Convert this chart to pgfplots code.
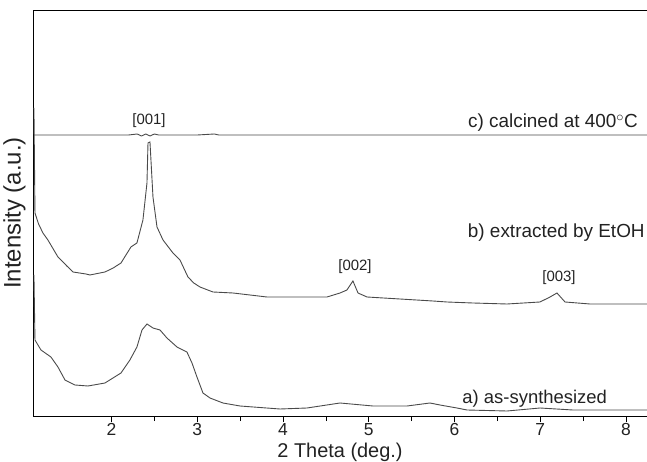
\documentclass[border=0pt]{standalone}
\usepackage{pgfplots}
\pgfplotsset{compat=1.18}
\usepackage{fontspec}
\setmainfont{Liberation Sans}
\definecolor{curve}{HTML}{4A4A4A}
\definecolor{txt}{HTML}{222222}
\begin{document}
\begin{tikzpicture}
\useasboundingbox (0,0) rectangle (647bp,462bp);
\begin{axis}[
  at={(33bp,46bp)}, anchor=south west,
  scale only axis, width=614bp, height=406bp,
  xmin=1.085, xmax=8.245, ymin=0, ymax=406,
  axis lines=left,
  axis line style={-, black, line width=0.9pt},
  xtick={2,3,4,5,6,7,8}, minor x tick num=1,
  tick align=outside,
  major tick length=6bp, minor tick length=5bp,
  tick style={black, line width=0.7pt},
  ytick=\empty,
  ticklabel style={font=\fontsize{17.5}{17.5}\selectfont, text=txt, inner sep=1.5pt},
  /pgf/number format/assume math mode=true,
  xlabel={2 Theta (deg.)},
  ylabel={Intensity (a.u.)},
  xlabel style={font=\fontsize{20}{20}\selectfont, text=txt, inner sep=0pt,
    at={(axis description cs:0.5,0)}, anchor=base, yshift=-41.5bp},
  ylabel style={font=\fontsize{24}{24}\selectfont, text=txt, yshift=-2bp},
  clip=false,
]
\draw[black, line width=0.9pt] (rel axis cs:0,1) -- (rel axis cs:1,1);
% c) calcined
\addplot[curve, line width=0.9pt] coordinates {
(1.096,281) (1.2,281) (1.6,281) (2.2,281) (2.3,282) (2.35,280) (2.4,282) (2.45,280) (2.5,282) (2.55,281) (3.0,281) (3.2,282) (3.25,281) (4,281) (5,281) (6,281) (7,281) (8.245,281)};
% b) extracted by EtOH
\addplot[curve, line width=0.9pt] coordinates {
(1.096,308) (1.108,203) (1.15,192) (1.201,183) (1.259,176) (1.376,159) (1.411,156) (1.48,150) (1.551,144) (1.703,142) (1.749,141) (1.924,144) (2.02,148) (2.111,153) (2.227,169) (2.297,173) (2.367,196) (2.414,233) (2.426,273) (2.449,274) (2.484,219) (2.531,189) (2.601,176) (2.717,163) (2.799,156) (2.892,139) (2.96,133) (3.032,129) (3.184,124) (3.417,123) (3.813,119) (4.198,119) (4.513,119) (4.665,123) (4.746,126) (4.816,135) (4.875,123) (4.980,119) (5.364,117) (5.749,115) (5.913,114) (6.216,113) (6.612,112) (6.997,114) (7.114,119) (7.195,123) (7.289,114) (7.580,112) (8.245,112)};
% a) as-synthesized
\addplot[curve, line width=0.9pt] coordinates {
(1.096,141) (1.108,76) (1.178,66) (1.294,59) (1.376,49) (1.458,36) (1.574,31) (1.726,30) (1.924,33) (2.111,43) (2.215,56) (2.297,69) (2.356,86) (2.414,92) (2.484,88) (2.566,86) (2.647,78) (2.764,69) (2.880,64) (2.939,53) (2.997,39) (3.067,23) (3.149,18) (3.300,13) (3.499,10) (3.965,7) (4.280,8) (4.665,13) (5.050,10) (5.446,10) (5.714,13) (5.831,11) (6.029,8) (6.146,6) (6.612,5) (6.997,8) (7.382,6) (8.245,6)};
\node[text=txt, font=\fontsize{15}{15}\selectfont] at (axis cs:2.438,295) {[001]};
\node[text=txt, font=\fontsize{15}{15}\selectfont] at (axis cs:4.84,149) {[002]};
\node[text=txt, font=\fontsize{15}{15}\selectfont] at (axis cs:7.219,138) {[003]};
\node[text=txt, anchor=east, font=\fontsize{19}{19}\selectfont, inner sep=0pt] at (axis cs:8.14,293) {c) calcined at 400$^{\circ}$C};
\node[text=txt, anchor=east, font=\fontsize{19}{19}\selectfont, inner sep=0pt] at (axis cs:8.22,183) {b) extracted by EtOH};
\node[text=txt, anchor=east, font=\fontsize{18.5}{18.5}\selectfont, inner sep=0pt] at (axis cs:7.78,17) {a) as-synthesized};
\end{axis}
\end{tikzpicture}
\end{document}
